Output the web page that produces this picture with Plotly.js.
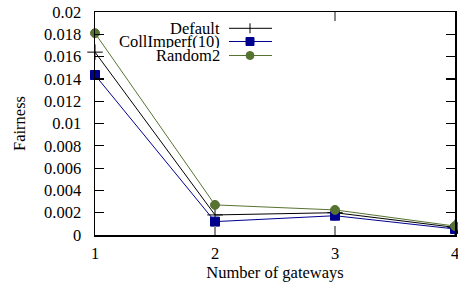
<!DOCTYPE html>
<html><head><meta charset="utf-8">
<script src="https://cdn.plot.ly/plotly-3.0.1.min.js"></script>
<style>html,body{margin:0;padding:0;background:#fff}</style>
</head><body><div id="c" style="width:458px;height:284px"></div>
<script>
const gateways = [1, 2, 3, 4];
const seriesNames = ["Default", "CollImperf(10)", "Random2"];
const defaultVals = [0.0164, 0.0018, 0.0020, 0.00068];
const collImperfVals = [0.01435, 0.0012, 0.00173, 0.00054];
const random2Vals = [0.0181, 0.0027, 0.00225, 0.0008];
const yTicks = [0, 0.002, 0.004, 0.006, 0.008, 0.01, 0.012, 0.014, 0.016, 0.018, 0.02];
const yTickText = ["0", "0.002", "0.004", "0.006", "0.008", "0.01", "0.012", "0.014", "0.016", "0.018", "0.02"];

const colors = ["#000000", "#00008f", "#577332"];
const symbols = ["cross-thin-open", "square", "circle"];
const sizes = [11, 9, 9];
const vals = [defaultVals, collImperfVals, random2Vals];

const font = {family: "Liberation Serif", size: 16.5, color: "#000"};
const traces = vals.map((v, i) => ({
  x: gateways, y: v, type: "scatter", mode: "lines+markers", name: seriesNames[i],
  line: {color: colors[i], width: 1},
  marker: {symbol: symbols[i], size: sizes[i], color: colors[i], line: {color: colors[i], width: 1}},
  showlegend: false, cliponaxis: false
}));
traces.push({x: [3], y: [0], xaxis: "x2", yaxis: "y", mode: "none", type: "scatter", showlegend: false, hoverinfo: "skip"});

const L = 95, R = 3, T = 12, B = 49, W = 458, H = 284;
const pw = W - L - R, ph = H - T - B;
const px = x => (x - L) / pw;
const py = y => (H - B - y) / ph;

const shapes = [];
const annotations = [];
const rowsY = [28.3, 41.5, 55.5];
shapes.push({type: "rect", xref: "paper", yref: "paper", x0: px(117), x1: px(276), y0: py(62), y1: py(14),
  fillcolor: "#fff", line: {width: 0}, layer: "above"});
rowsY.forEach((ry, i) => {
  shapes.push({type: "line", xref: "paper", yref: "paper", x0: px(229), x1: px(272), y0: py(ry), y1: py(ry),
    line: {color: colors[i], width: 1}, layer: "above"});
  annotations.push({xref: "paper", yref: "paper", x: px(222), y: py(ry), xanchor: "right", yanchor: "middle",
    text: seriesNames[i], showarrow: false, font: font, height: 13});
});
const cx = px(250);
const hw = 4 / pw, hh = 4 / ph;
shapes.push({type: "line", xref: "paper", yref: "paper", x0: cx, x1: cx, y0: py(rowsY[0] - 5), y1: py(rowsY[0] + 5), line: {color: colors[0], width: 1}, layer: "above"});
shapes.push({type: "rect", xref: "paper", yref: "paper", x0: cx - hw, x1: cx + hw, y0: py(rowsY[1]) - hh, y1: py(rowsY[1]) + hh, fillcolor: colors[1], line: {color: colors[1], width: 1}, layer: "above"});
shapes.push({type: "circle", xref: "paper", yref: "paper", x0: cx - hw, x1: cx + hw, y0: py(rowsY[2]) - hh, y1: py(rowsY[2]) + hh, fillcolor: colors[2], line: {color: colors[2], width: 1}, layer: "above"});

const layout = {
  width: W, height: H, margin: {l: L, r: R, t: T, b: B},
  paper_bgcolor: "#fff", plot_bgcolor: "#fff", font: font, showlegend: false,
  xaxis: {range: [1, 4], tickvals: gateways, ticktext: gateways.map(String), ticks: "inside", ticklen: 9,
    tickcolor: "#888", tickwidth: 1.5, showline: true, linecolor: "#000", linewidth: 1.5, mirror: true,
    showgrid: false, zeroline: false, tickfont: font, ticklabelstandoff: 3, ticklabeloverflow: "allow",
    title: {text: "Number of gateways", font: font, standoff: 2}},
  xaxis2: {range: [1, 4], overlaying: "x", side: "top", tickvals: [3], ticks: "inside", ticklen: 9,
    tickcolor: "#888", tickwidth: 1.5, showticklabels: false, showgrid: false, zeroline: false, showline: false},
  yaxis: {range: [0, 0.02], tickvals: yTicks, ticktext: yTickText, ticks: "inside", ticklen: 9,
    tickcolor: "#000", tickwidth: 1.2, showline: true, linecolor: "#000", linewidth: 1.5, mirror: "ticks",
    showgrid: false, zeroline: false, tickfont: font, ticklabelstandoff: 9,
    title: {text: "Fairness", font: font, standoff: 14}},
  shapes: shapes, annotations: annotations
};
Plotly.newPlot("c", traces, layout, {staticPlot: true});
</script></body></html>
